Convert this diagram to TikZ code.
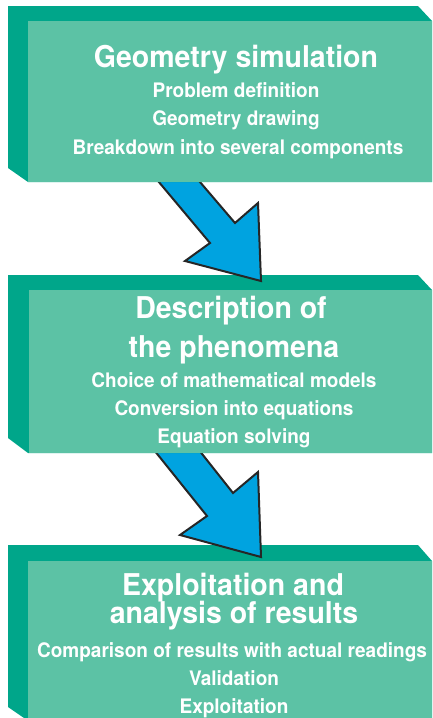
\documentclass[tikz,border=0pt]{standalone}
\usepackage{fontspec}
\setsansfont{TeX Gyre Heros}[FakeStretch=0.95]
\definecolor{facegreen}{HTML}{5CC2A5}
\definecolor{sidegreen}{HTML}{00A68A}
\definecolor{arrowblue}{HTML}{00A3E0}
\begin{document}
\begin{tikzpicture}[x=1pt,y=-1pt,
    face/.style = {fill=facegreen, draw=none, inner sep=0pt, outer sep=0pt, anchor=north west},
    side/.style = {fill=sidegreen, draw=none},
    bigarrow/.style = {fill=arrowblue, draw=black!85, line width=2pt, line join=miter},
    title/.style = {text=white, font=\sffamily\bfseries\fontsize{30}{30}\selectfont, anchor=base, inner sep=0pt},
    item/.style = {text=white, font=\sffamily\bfseries\fontsize{20}{20}\selectfont, anchor=base, inner sep=0pt}]
    \useasboundingbox (0,0) rectangle (432,718);

    % Box 3
    \fill[side] (8,545) -- (418,545) -- (432,561) -- (432,718) -- (24,718) -- (8,707) -- cycle;
    \node[face, minimum width=404pt, minimum height=157pt] (exploit) at (28,561) {};
    \node[title] (exploitA) at (233,595) {Exploitation and};
    \node[title] (exploitB) at (234,623) {analysis of results};
    \node[item] (compare) at (232,657) {Comparison of results with actual readings};
    \node[item] (valid) at (234,685) {Validation};
    \node[item] (use) at (234,713) {Exploitation};

    % Arrow 2
    \draw[bigarrow] (150,445) -- (195,445) -- (233,493) -- (258,472) -- (261,557)
        -- (180,535) -- (207,516) -- cycle;

    % Box 2
    \fill[side] (8,275) -- (418,275) -- (432,290) -- (432,453) -- (28,453) -- (8,438) -- cycle;
    \node[face, minimum width=403pt, minimum height=163pt] (pheno) at (29,290) {};
    \node[title] (phenoA) at (231,318) {Description of};
    \node[title] (phenoB) at (234,357) {the phenomena};
    \node[item] (models) at (234,387) {Choice of mathematical models};
    \node[item] (equations) at (234,415) {Conversion into equations};
    \node[item] (solving) at (234,443) {Equation solving};

    % Arrow 1
    \draw[bigarrow] (153,175) -- (194,175) -- (235,223) -- (258,203) -- (261,281)
        -- (185,261) -- (210,243) -- cycle;

    % Box 1
    \fill[side] (8,6) -- (418,6) -- (432,21) -- (432,182) -- (28,182) -- (8,168) -- cycle;
    \node[face, minimum width=404pt, minimum height=161pt] (geom) at (28,21) {};
    \node[title] (geomA) at (236,67) {Geometry simulation};
    \node[item] (problem) at (236,97) {Problem definition};
    \node[item] (drawing) at (236,125) {Geometry drawing};
    \node[item] (breakdown) at (238,154) {Breakdown into several components};
\end{tikzpicture}
\end{document}
